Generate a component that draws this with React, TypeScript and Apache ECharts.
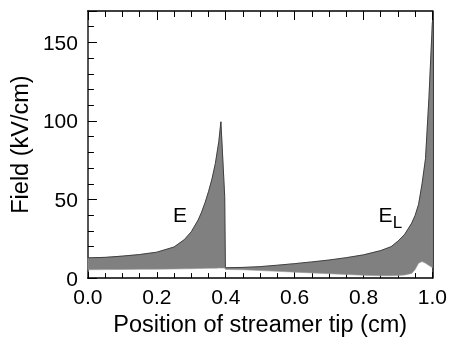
import React, { useEffect, useRef } from "react";
import * as echarts from "echarts";

// Position of streamer tip (cm)
const positions = [
  0.0, 0.05, 0.1, 0.15, 0.2, 0.25, 0.28, 0.3, 0.32, 0.33, 0.34, 0.35, 0.36, 0.37, 0.38,
  0.386, 0.397, 0.399, 0.4, 0.45, 0.5, 0.55, 0.6, 0.65, 0.7, 0.75, 0.8, 0.85,
  0.88, 0.9, 0.92, 0.94, 0.95, 0.96, 0.97, 0.98, 0.99, 1.0,
];
// Upper boundary of the field band (kV/cm)
const upperField = [
  12.9, 13.2, 14.0, 15.0, 16.5, 19.8, 24.5, 29.5, 37.0, 42.0, 48.0, 55.0, 63.0, 73.0, 87.0,
  99.5, 52.0, 6.8, 6.6, 6.8, 7.3, 8.2, 9.2, 10.3, 11.5, 13.0, 14.8, 17.5,
  20.0, 23.5, 28.0, 35.0, 40.0, 47.0, 60.0, 76.0, 115.0, 163.0,
];
// Lower boundary of the field band (kV/cm)
const lowerField = [
  5.3, 5.4, 5.5, 5.6, 5.7, 5.8, 5.9, 6.0, 6.1, 6.1, 6.2, 6.2, 6.3, 6.3, 6.4,
  6.4, 6.4, 5.6, 5.5, 5.3, 4.8, 4.3, 3.8, 3.3, 2.8, 2.3, 1.8, 1.5,
  1.5, 1.6, 2.0, 3.0, 5.5, 9.5, 10.5, 9.5, 8.0, 6.7,
];
const xTicks = { min: 0, max: 1, interval: 0.2 };
const yTicks = { min: 0, max: 170, interval: 10, labelEvery: 50 };

const FONT = "'Liberation Sans', Arial, sans-serif";

export default function App() {
  const ref = useRef<HTMLDivElement>(null);
  useEffect(() => {
    if (!ref.current) return;
    const chart = echarts.init(ref.current, undefined, { renderer: "svg" });
    const labelStyle = { fontSize: 21, color: "#000", fontFamily: FONT };
    const nameStyle = { fontSize: 23.5, color: "#000", fontFamily: FONT };
    const renderBand = (params: any, api: any) => {
      if (params.dataIndex !== 0) return null;
      const top = positions.map((x, i) => api.coord([x, upperField[i]]));
      const bottom = positions.map((x, i) => api.coord([x, lowerField[i]])).reverse();
      return {
        type: "group",
        children: [
          {
            type: "polygon",
            shape: { points: top.concat(bottom) },
            style: { fill: "#808080", stroke: "#9a9a9a", lineWidth: 0.6 },
          },
          {
            type: "polyline",
            shape: { points: top },
            style: { fill: "none", stroke: "#333", lineWidth: 0.9 },
          },
        ],
      };
    };
    chart.setOption({
      animation: false,
      grid: { left: 83.5, right: 15.7, top: 11, bottom: 57.5, containLabel: false },
      xAxis: [
        {
          type: "value",
          position: "bottom",
          min: xTicks.min,
          max: xTicks.max,
          interval: xTicks.interval,
          axisLine: { show: true, onZero: false, lineStyle: { color: "#000", width: 1.5 } },
          axisTick: { show: true, inside: true, length: 6, lineStyle: { color: "#000", width: 1 } },
          minorTick: { show: true, splitNumber: 4, length: 5, lineStyle: { color: "#000", width: 1 } },
          axisLabel: { ...labelStyle, margin: 8, formatter: (v: number) => v.toFixed(1) },
          splitLine: { show: false },
          name: "Position of streamer tip (cm)",
          nameLocation: "middle",
          nameGap: 32,
          nameTextStyle: nameStyle,
        },
        {
          type: "value",
          position: "top",
          min: xTicks.min,
          max: xTicks.max,
          interval: xTicks.interval,
          axisLine: { show: true, onZero: false, lineStyle: { color: "#000", width: 1.5 } },
          axisTick: { show: true, inside: true, length: 9, lineStyle: { color: "#000", width: 1 } },
          minorTick: { show: true, splitNumber: 4, length: 6, lineStyle: { color: "#000", width: 1 } },
          axisLabel: { show: false },
          splitLine: { show: false },
        },
      ],
      yAxis: [
        {
          type: "value",
          position: "left",
          min: yTicks.min,
          max: yTicks.max,
          interval: yTicks.interval,
          axisLine: { show: true, onZero: false, lineStyle: { color: "#555", width: 2 } },
          axisTick: { show: true, inside: true, length: 6, lineStyle: { color: "#000", width: 1 } },
          axisLabel: {
            ...labelStyle,
            margin: 10,
            formatter: (v: number) => (v % yTicks.labelEvery === 0 ? String(v) : ""),
          },
          splitLine: { show: false },
          name: "Field (kV/cm)",
          nameLocation: "middle",
          nameGap: 52,
          nameTextStyle: nameStyle,
        },
        {
          type: "value",
          position: "left",
          min: yTicks.min,
          max: yTicks.max,
          interval: yTicks.labelEvery,
          axisLine: { show: false, onZero: false },
          axisTick: { show: true, inside: true, length: 9, lineStyle: { color: "#000", width: 1 } },
          axisLabel: { show: false },
          splitLine: { show: false },
        },
        {
          type: "value",
          position: "right",
          min: yTicks.min,
          max: yTicks.max,
          axisLine: { show: true, onZero: false, lineStyle: { color: "#000", width: 1.5 } },
          axisTick: { show: false },
          axisLabel: { show: false },
          splitLine: { show: false },
        },
      ],
      series: [
        {
          type: "custom",
          xAxisIndex: 0,
          yAxisIndex: 0,
          silent: true,
          clip: false,
          renderItem: renderBand,
          encode: { x: 0, y: [1, 2] },
          data: positions.map((x, i) => [x, lowerField[i], upperField[i]]),
          z: 1,
        },
      ],
      graphic: [
        {
          type: "text",
          x: 180,
          y: 214.5,
          style: { text: "E", fontSize: 21, fontFamily: FONT, fill: "#000", align: "center", verticalAlign: "middle" },
        },
        {
          type: "text",
          x: 385.5,
          y: 214.5,
          style: { text: "E", fontSize: 21, fontFamily: FONT, fill: "#000", align: "center", verticalAlign: "middle" },
        },
        {
          type: "text",
          x: 397.5,
          y: 222.5,
          style: { text: "L", fontSize: 17, fontFamily: FONT, fill: "#000", align: "center", verticalAlign: "middle" },
        },
      ],
    });
    return () => chart.dispose();
  }, []);
  return <div ref={ref} style={{ position: "fixed", left: 0, top: 0, width: 450, height: 341 }} />;
}
